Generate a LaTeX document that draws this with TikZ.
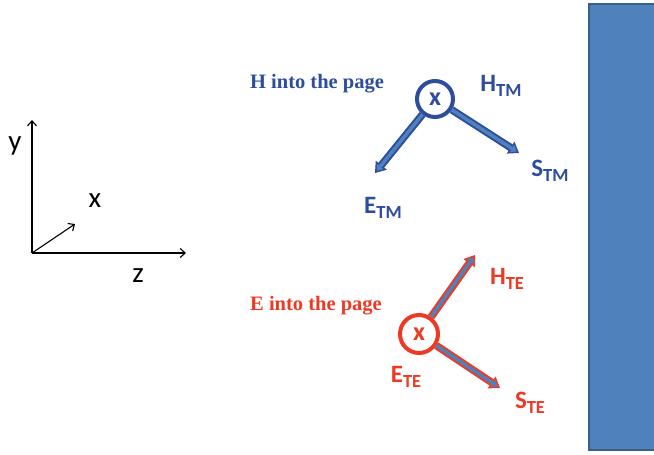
\documentclass[tikz,border=0pt]{standalone}
\usepackage{fontspec}
\setmainfont{Carlito}
\newfontfamily\timesfont{Liberation Serif}
\usepackage{graphicx}
\usetikzlibrary{arrows.meta,positioning}
\definecolor{tmblue}{HTML}{2F4D9D}
\definecolor{tered}{HTML}{EC3A24}
\definecolor{arrowfill}{HTML}{4F81BD}
\definecolor{wallline}{HTML}{3B5F8C}
\newcommand{\fld}[2]{#1\raisebox{-5pt}{\fontsize{18.5}{18.5}\selectfont #2}}

\begin{document}
\begin{tikzpicture}[x=1pt, y=-1pt,
  axis/.style={line width=1.1pt, -{Straight Barb[length=5pt,width=9pt]}},
  axlabel/.style={font=\fontsize{29}{29}\selectfont, inner sep=0pt},
  ring/.style={circle, draw, line width=4pt, minimum size=36pt, inner sep=0pt, font=\fontsize{26}{26}\selectfont\bfseries},
  fieldarrow/.style={draw=#1, line width=7.5pt, -{Triangle[length=10pt,width=14pt,line width=1pt]},
    postaction={draw=arrowfill, line width=3.5pt, -{Triangle[length=5.5pt,width=8.5pt,line width=0pt]}, shorten >=2.8pt}},
  fieldlabel/.style={font=\fontsize{25}{25}\selectfont\bfseries, inner sep=0pt},
  pagenote/.style={font=\timesfont\fontsize{20.5}{20.5}\selectfont\bfseries, inner sep=0pt}
]
\useasboundingbox (0,0) rectangle (654,455);

% wall
\filldraw[fill=arrowfill, draw=wallline, line width=2pt] (589,4) rectangle (662,450);

% axes
\coordinate (o) at (32,253);
\coordinate (ytip) at (32,120);
\coordinate (ztip) at (186,253);
\coordinate (xtip) at (75,224);
\draw[axis] (o) -- (ytip);
\draw[axis] (o) -- (ztip);
\draw[axis] (o) -- (xtip);
\node[axlabel] (ylab) at (15,146) {y};
\node[axlabel] (xlab) at (95,201) {x};
\node[axlabel] (zlab) at (138,276) {z};

% TM case
\node[pagenote, text=tmblue] (hnote) at (317,84) {H into the page};
\node[ring, draw=tmblue, text=tmblue] (ctm) at (435,99) {x};
\coordinate (etmtip) at (375,173);
\coordinate (stmtip) at (519,153);
\draw[fieldarrow=tmblue] (ctm) -- (etmtip);
\draw[fieldarrow=tmblue] (ctm) -- (stmtip);
\node[fieldlabel, text=tmblue] (htm) at (501,86) {\fld{H}{TM}};
\node[fieldlabel, text=tmblue] (stm) at (550,171) {\fld{S}{TM}};
\node[fieldlabel, text=tmblue] (etm) at (383,208) {\fld{E}{TM}};

% TE case
\node[pagenote, text=tered] (enote) at (316,306) {E into the page};
\node[ring, draw=tered, text=tered, minimum size=38pt] (cte) at (419,334) {x};
\coordinate (htetip) at (475,255);
\coordinate (stetip) at (500,388);
\draw[fieldarrow=tered] (cte) -- (htetip);
\draw[fieldarrow=tered] (cte) -- (stetip);
\node[fieldlabel, text=tered] (hte) at (507,279) {\fld{H}{TE}};
\node[fieldlabel, text=tered] (ste) at (530,403) {\fld{S}{TE}};
\node[fieldlabel, text=tered] (ete) at (406,377) {\fld{E}{TE}};
\end{tikzpicture}
\end{document}
